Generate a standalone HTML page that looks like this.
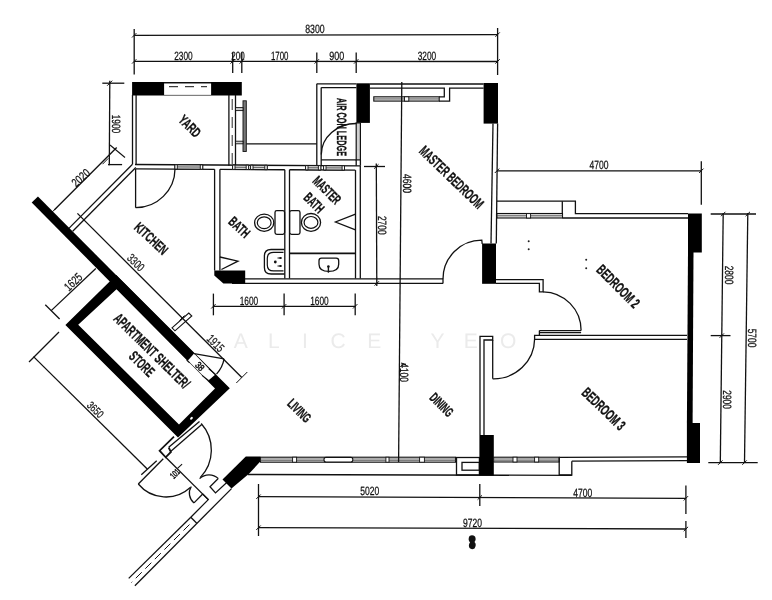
<!DOCTYPE html>
<html><head><meta charset="utf-8"><title>Floor plan</title>
<style>
html,body{margin:0;padding:0;background:#fff;}
svg{display:block;font-family:"Liberation Sans",sans-serif;will-change:transform;}
text{text-rendering:geometricPrecision;}
</style></head><body>
<svg width="772" height="600" viewBox="0 0 772 600">
<rect x="0" y="0" width="772" height="600" fill="#fff"/>
<text x="240.7 273.9 305 338.1 374.2 406 437.6 470.8 508.1" y="348" text-anchor="middle" font-size="21" fill="#ebebeb">ALICE YEO</text>
<line x1="134.2" y1="35.3" x2="497.6" y2="34.6" stroke="#111" stroke-width="1.3" />
<line x1="134.2" y1="61.3" x2="497.6" y2="61.5" stroke="#111" stroke-width="1.3" />
<line x1="134.2" y1="29" x2="134.2" y2="74.4" stroke="#111" stroke-width="1.3" />
<line x1="497.6" y1="28" x2="497.6" y2="75" stroke="#111" stroke-width="1.3" />
<line x1="232.7" y1="52.5" x2="232.7" y2="73" stroke="#111" stroke-width="1.3" />
<line x1="241.8" y1="52.5" x2="241.8" y2="73" stroke="#111" stroke-width="1.3" />
<line x1="316.8" y1="52.5" x2="316.8" y2="73" stroke="#111" stroke-width="1.3" />
<line x1="356.2" y1="52.5" x2="356.2" y2="73" stroke="#111" stroke-width="1.3" />
<line x1="132.0" y1="63.6" x2="136.39999999999998" y2="59.199999999999996" stroke="#111" stroke-width="1.0" />
<line x1="230.5" y1="63.6" x2="234.89999999999998" y2="59.199999999999996" stroke="#111" stroke-width="1.0" />
<line x1="239.60000000000002" y1="63.6" x2="244.0" y2="59.199999999999996" stroke="#111" stroke-width="1.0" />
<line x1="314.6" y1="63.6" x2="319.0" y2="59.199999999999996" stroke="#111" stroke-width="1.0" />
<line x1="354.0" y1="63.6" x2="358.4" y2="59.199999999999996" stroke="#111" stroke-width="1.0" />
<line x1="495.40000000000003" y1="63.6" x2="499.8" y2="59.199999999999996" stroke="#111" stroke-width="1.0" />
<line x1="132.0" y1="37.5" x2="136.39999999999998" y2="33.099999999999994" stroke="#111" stroke-width="1.0" />
<line x1="495.40000000000003" y1="36.800000000000004" x2="499.8" y2="32.4" stroke="#111" stroke-width="1.0" />
<text x="315" y="32.82" text-anchor="middle" font-size="12" textLength="19.5" lengthAdjust="spacingAndGlyphs" stroke="#111" stroke-width="0.25" fill="#111">8300</text>
<text x="183.5" y="59.82" text-anchor="middle" font-size="12" textLength="18.5" lengthAdjust="spacingAndGlyphs" stroke="#111" stroke-width="0.25" fill="#111">2300</text>
<text x="238" y="59.82" text-anchor="middle" font-size="12" textLength="13.5" lengthAdjust="spacingAndGlyphs" stroke="#111" stroke-width="0.25" fill="#111">200</text>
<text x="279.7" y="59.82" text-anchor="middle" font-size="12" textLength="17.5" lengthAdjust="spacingAndGlyphs" stroke="#111" stroke-width="0.25" fill="#111">1700</text>
<text x="336.7" y="59.82" text-anchor="middle" font-size="12" textLength="15" lengthAdjust="spacingAndGlyphs" stroke="#111" stroke-width="0.25" fill="#111">900</text>
<text x="427" y="60.12" text-anchor="middle" font-size="12" textLength="18.5" lengthAdjust="spacingAndGlyphs" stroke="#111" stroke-width="0.25" fill="#111">3200</text>
<rect x="132.1" y="82" width="109.70" height="13.50" fill="#000" stroke="none" stroke-width="1.3" rx="0"/>
<rect x="164.1" y="83.4" width="47.00" height="11.50" fill="#fff" stroke="none" stroke-width="1.3" rx="0"/>
<line x1="164.1" y1="82.6" x2="211.1" y2="82.6" stroke="#111" stroke-width="1" />
<line x1="169" y1="86.7" x2="207" y2="86.7" stroke="#111" stroke-width="1" stroke-dasharray="9 7"/>
<line x1="132.5" y1="95" x2="132.5" y2="164.3" stroke="#111" stroke-width="1.3" />
<line x1="136.1" y1="95" x2="136.1" y2="164.5" stroke="#111" stroke-width="1.3" />
<line x1="228.9" y1="95" x2="228.9" y2="165.8" stroke="#111" stroke-width="1.3" />
<line x1="235.5" y1="95" x2="235.5" y2="165.8" stroke="#111" stroke-width="1.3" />
<line x1="232.2" y1="99" x2="232.2" y2="164" stroke="#111" stroke-width="0.9" stroke-dasharray="11 7"/>
<rect x="243" y="100.8" width="3.30" height="50.70" fill="#777" stroke="#111" stroke-width="0.9" rx="0"/>
<rect x="235.5" y="107.6" width="7.50" height="3.00" fill="#ccc" stroke="#111" stroke-width="0.9" rx="0"/>
<rect x="235.5" y="141.2" width="7.50" height="2.60" fill="#ccc" stroke="#111" stroke-width="0.9" rx="0"/>
<line x1="246.3" y1="143.8" x2="316.8" y2="143.8" stroke="#111" stroke-width="1.3" />
<text x="190" y="131.05" text-anchor="middle" font-size="14.040000000000001" textLength="25" lengthAdjust="spacingAndGlyphs" font-weight="bold" stroke="#111" stroke-width="0.35" fill="#111" transform="rotate(45 190 126)">YARD</text>
<line x1="109.8" y1="80.7" x2="109.3" y2="165.2" stroke="#111" stroke-width="1.3" />
<line x1="102.3" y1="83.2" x2="124.3" y2="83.2" stroke="#111" stroke-width="1.3" />
<line x1="108" y1="164.6" x2="122.1" y2="164.6" stroke="#111" stroke-width="1.3" />
<line x1="107.2" y1="85.7" x2="112.2" y2="80.7" stroke="#111" stroke-width="1.0" />
<line x1="110" y1="145" x2="125" y2="157.5" stroke="#111" stroke-width="1.1" />
<line x1="102.5" y1="164.2" x2="108.3" y2="158.3" stroke="#111" stroke-width="1.0" />
<text x="116" y="128.32" text-anchor="middle" font-size="12" textLength="18.5" lengthAdjust="spacingAndGlyphs" stroke="#111" stroke-width="0.25" fill="#111" transform="rotate(90 116 124)">1900</text>
<line x1="316.8" y1="83.8" x2="356.4" y2="83.8" stroke="#111" stroke-width="1.3" />
<line x1="321.2" y1="87.6" x2="356.4" y2="87.6" stroke="#111" stroke-width="1.3" />
<line x1="316.8" y1="83.8" x2="316.8" y2="165.8" stroke="#111" stroke-width="1.3" />
<line x1="321.2" y1="87.6" x2="321.2" y2="165.8" stroke="#111" stroke-width="1.3" />
<rect x="356.4" y="83.3" width="13.50" height="39.60" fill="#000" stroke="none" stroke-width="1.3" rx="0"/>
<rect x="356.2" y="122.9" width="4.20" height="37.00" fill="#d0d0d0" stroke="#111" stroke-width="1.2" rx="0"/>
<line x1="356.2" y1="159.9" x2="356.2" y2="165.8" stroke="#111" stroke-width="1.3" />
<line x1="360.4" y1="159.9" x2="360.4" y2="165.8" stroke="#111" stroke-width="1.3" />
<line x1="321.2" y1="159.9" x2="356.4" y2="159.9" stroke="#111" stroke-width="1.3" />
<path d="M321.3,154.5 A35,31 0 0 1 356.4,123.5" fill="none" stroke="#111" stroke-width="1.3" />
<text x="341.5" y="131.86" text-anchor="middle" font-size="13.5" textLength="58" lengthAdjust="spacingAndGlyphs" font-weight="bold" stroke="#111" stroke-width="0.35" fill="#111" transform="rotate(90 341.5 127)">AIR CON LEDGE</text>
<line x1="135" y1="164.5" x2="360.4" y2="165.9" stroke="#111" stroke-width="1.3" />
<line x1="136" y1="168.81" x2="214.6" y2="169.3" stroke="#111" stroke-width="1.3" />
<line x1="220" y1="169.33" x2="284.8" y2="169.73" stroke="#111" stroke-width="1.3" />
<line x1="289.5" y1="169.76" x2="355.3" y2="170.17" stroke="#111" stroke-width="1.3" />
<polygon points="174.9,164.75 202.7,164.92 202.7,169.22 174.9,169.05" fill="#d6d6d6" stroke="#111" stroke-width="1.0"/>
<line x1="174.9" y1="166.9" x2="202.7" y2="167.07" stroke="#444" stroke-width="0.8" />
<polygon points="174.9,164.75 177.3,164.75 177.3,169.05 174.9,169.05" fill="#fff" stroke="#111" stroke-width="0.9"/>
<polygon points="200.29999999999998,164.91 202.7,164.91 202.7,169.21 200.29999999999998,169.21" fill="#fff" stroke="#111" stroke-width="0.9"/>
<polygon points="232.6,165.11 248.6,165.21 248.6,169.51 232.6,169.41" fill="#d6d6d6" stroke="#111" stroke-width="1.0"/>
<line x1="232.6" y1="167.26" x2="248.6" y2="167.36" stroke="#444" stroke-width="0.8" />
<polygon points="232.6,165.11 235.0,165.11 235.0,169.41 232.6,169.41" fill="#fff" stroke="#111" stroke-width="0.9"/>
<polygon points="246.2,165.19 248.6,165.19 248.6,169.49 246.2,169.49" fill="#fff" stroke="#111" stroke-width="0.9"/>
<polygon points="250.6,165.22 267.2,165.32 267.2,169.62 250.6,169.52" fill="#d6d6d6" stroke="#111" stroke-width="1.0"/>
<line x1="250.6" y1="167.37" x2="267.2" y2="167.47" stroke="#444" stroke-width="0.8" />
<polygon points="250.6,165.22 253.0,165.22 253.0,169.52 250.6,169.52" fill="#fff" stroke="#111" stroke-width="0.9"/>
<polygon points="264.8,165.31 267.2,165.31 267.2,169.61 264.8,169.61" fill="#fff" stroke="#111" stroke-width="0.9"/>
<polygon points="305.6,165.56 320.8,165.66 320.8,169.96 305.6,169.86" fill="#d6d6d6" stroke="#111" stroke-width="1.0"/>
<line x1="305.6" y1="167.71" x2="320.8" y2="167.81" stroke="#444" stroke-width="0.8" />
<polygon points="305.6,165.56 308.0,165.56 308.0,169.86 305.6,169.86" fill="#fff" stroke="#111" stroke-width="0.9"/>
<polygon points="318.40000000000003,165.64 320.8,165.64 320.8,169.94 318.40000000000003,169.94" fill="#fff" stroke="#111" stroke-width="0.9"/>
<polygon points="323.6,165.67 344.5,165.8 344.5,170.1 323.6,169.97" fill="#d6d6d6" stroke="#111" stroke-width="1.0"/>
<line x1="323.6" y1="167.82" x2="344.5" y2="167.95" stroke="#444" stroke-width="0.8" />
<polygon points="323.6,165.67 326.0,165.67 326.0,169.97 323.6,169.97" fill="#fff" stroke="#111" stroke-width="0.9"/>
<polygon points="342.1,165.79 344.5,165.79 344.5,170.09 342.1,170.09" fill="#fff" stroke="#111" stroke-width="0.9"/>
<line x1="132.5" y1="164.3" x2="68.9" y2="228.4" stroke="#111" stroke-width="1.3" />
<line x1="135.8" y1="167.5" x2="72.7" y2="231.2" stroke="#111" stroke-width="1.3" />
<line x1="135.6" y1="168.8" x2="135.6" y2="207.7" stroke="#111" stroke-width="1.3" />
<path d="M135.6,207.7 A39.4,39 0 0 0 175,169" fill="none" stroke="#111" stroke-width="1.3" />
<text x="151.4" y="243.45" text-anchor="middle" font-size="14.040000000000001" textLength="40" lengthAdjust="spacingAndGlyphs" font-weight="bold" stroke="#111" stroke-width="0.35" fill="#111" transform="rotate(43 151.4 238.4)">KITCHEN</text>
<line x1="54.2" y1="210" x2="116.7" y2="147.5" stroke="#111" stroke-width="1.3" />
<text x="80.7" y="181.92" text-anchor="middle" font-size="12" textLength="20" lengthAdjust="spacingAndGlyphs" stroke="#111" stroke-width="0.25" fill="#111" transform="rotate(-41 80.7 177.6)">2020</text>
<line x1="51.7" y1="212.5" x2="56.7" y2="207.5" stroke="#111" stroke-width="1.0" />
<polygon points="37.95,196.4 194.1,353.6 187.9,360.6 31.7,202.5" fill="#000" stroke="none" stroke-width="0"/>
<path fill-rule="evenodd" fill="#000" d="M65.4,325.1 L116.3,275.1 L229.8,388.3 L178,437.5 Z M78.2,324.7 L116.5,289.2 L215,388.4 L179,424.4 Z"/>
<polygon points="194.1,353.6 214.8,374.9 208.1,380.8 187.9,360.6" fill="#fff" stroke="none" stroke-width="0"/>
<polygon points="172.0,327.8 188.8,313.0 191.8,316.0 175.0,330.8" fill="#fff" stroke="#111" stroke-width="1.1"/>
<line x1="194.1" y1="353.6" x2="224.1" y2="358.9" stroke="#111" stroke-width="1.3" />
<path d="M224.1,358.9 A30.5,30.5 0 0 1 216.5,374.1" fill="none" stroke="#111" stroke-width="1.3" />
<line x1="186.7" y1="360" x2="189.6" y2="362.9" stroke="#111" stroke-width="1.1" />
<line x1="208.8" y1="368.8" x2="215.8" y2="374.6" stroke="#111" stroke-width="1.1" />
<line x1="202" y1="375.4" x2="208.8" y2="380.8" stroke="#111" stroke-width="1.1" />
<text x="200" y="369.72" text-anchor="middle" font-size="9.5" textLength="8.5" lengthAdjust="spacingAndGlyphs" stroke="#111" stroke-width="0.5" fill="#111" transform="rotate(45 200 366.3)">38</text>
<ellipse cx="191.5" cy="418.3" rx="1.6" ry="1.1" fill="#fff" transform="rotate(-45 191.5 418.3)"/>
<text x="152.1" y="355.95" text-anchor="middle" font-size="14.580000000000002" textLength="100" lengthAdjust="spacingAndGlyphs" font-weight="bold" stroke="#111" stroke-width="0.35" fill="#111" transform="rotate(44.5 152.1 350.7)">APARTMENT SHELTER/</text>
<text x="142" y="368.95" text-anchor="middle" font-size="14.580000000000002" textLength="29" lengthAdjust="spacingAndGlyphs" font-weight="bold" stroke="#111" stroke-width="0.35" fill="#111" transform="rotate(44.5 142 363.7)">STORE</text>
<line x1="77.4" y1="213.4" x2="241.8" y2="377.5" stroke="#111" stroke-width="1.3" />
<line x1="236.3" y1="383.0" x2="247.3" y2="372.0" stroke="#111" stroke-width="1.0" />
<line x1="179.5" y1="320.5" x2="184.5" y2="315.5" stroke="#111" stroke-width="1" />
<text x="136" y="266.72" text-anchor="middle" font-size="12" textLength="19" lengthAdjust="spacingAndGlyphs" stroke="#111" stroke-width="0.25" fill="#111" transform="rotate(45 136 262.4)">3300</text>
<text x="215.7" y="347.42" text-anchor="middle" font-size="12" textLength="19" lengthAdjust="spacingAndGlyphs" stroke="#111" stroke-width="0.25" fill="#111" transform="rotate(45 215.7 343.1)">1915</text>
<line x1="51.2" y1="310.6" x2="95.8" y2="268.5" stroke="#111" stroke-width="1.3" />
<line x1="45.3" y1="304.7" x2="59.6" y2="319" stroke="#111" stroke-width="1.3" />
<text x="73.0" y="286.12" text-anchor="middle" font-size="12" textLength="20" lengthAdjust="spacingAndGlyphs" stroke="#111" stroke-width="0.25" fill="#111" transform="rotate(-43 73.0 281.8)">1625</text>
<line x1="33.5" y1="356.6" x2="147.5" y2="469.3" stroke="#111" stroke-width="1.3" />
<line x1="59" y1="332" x2="29" y2="362" stroke="#111" stroke-width="1.3" />
<line x1="141.3" y1="474.7" x2="156.7" y2="460.7" stroke="#111" stroke-width="1.3" />
<text x="95.5" y="413.46" text-anchor="middle" font-size="11" textLength="18" lengthAdjust="spacingAndGlyphs" stroke="#111" stroke-width="0.25" fill="#111" transform="rotate(45 95.5 409.5)">3650</text>
<polyline points="174,436.7 159.6,450.7 165.7,457.3 170.9,452 168.7,447.5" fill="none" stroke="#111" stroke-width="1.8" />
<line x1="168.7" y1="447.3" x2="199.5" y2="421.5" stroke="#111" stroke-width="1.3" />
<line x1="170.9" y1="451.2" x2="201.7" y2="424.5" stroke="#111" stroke-width="1.3" />
<path d="M201.2,423.5 A39.7,39.7 0 0 1 200.2,477.6" fill="none" stroke="#111" stroke-width="1.3" />
<line x1="165.7" y1="457.3" x2="208.3" y2="499.6" stroke="#111" stroke-width="1.3" />
<path d="M199.6,478.6 A13.5,13.5 0 0 1 218.4,478.6" fill="none" stroke="#111" stroke-width="1.3" />
<line x1="163.3" y1="458.7" x2="138.3" y2="484" stroke="#111" stroke-width="1.3" />
<path d="M138.3,484 A36,36 0 0 0 190.3,487.5" fill="none" stroke="#111" stroke-width="1.3" />
<path d="M191.3,486.5 A12.5,12.5 0 0 0 194,502.9" fill="none" stroke="#111" stroke-width="1.3" />
<line x1="194" y1="502.9" x2="202.7" y2="494" stroke="#111" stroke-width="1.3" />
<polyline points="218,478.7 210,486.7 215.5,492.9 230,479.5" fill="none" stroke="#111" stroke-width="1.3" />
<polyline points="202.7,494 208.3,499.6 190.8,517.3" fill="none" stroke="#111" stroke-width="1.3" />
<line x1="177.5" y1="468.3" x2="182.1" y2="464.2" stroke="#111" stroke-width="1.1" />
<text x="174.8" y="476.84" text-anchor="middle" font-size="9" textLength="9.5" lengthAdjust="spacingAndGlyphs" stroke="#111" stroke-width="0.5" fill="#111" transform="rotate(-45 174.8 473.6)">101</text>
<line x1="231.5" y1="488.6" x2="134.9" y2="585.7" stroke="#111" stroke-width="1.3" />
<line x1="190.8" y1="517.3" x2="128.7" y2="578.4" stroke="#111" stroke-width="1.3" />
<line x1="190.8" y1="517.3" x2="197" y2="523.5" stroke="#111" stroke-width="1.3" />
<line x1="189.5" y1="524.5" x2="131.5" y2="582.5" stroke="#111" stroke-width="1" stroke-dasharray="8.5 5"/>
<polygon points="245.8,456.6 260.3,456.6 260.3,461.6 249,473.7 231.5,488.6 222.5,479.5" fill="#000" stroke="none" stroke-width="0"/>
<line x1="247.8" y1="474.5" x2="571.8" y2="475.4" stroke="#111" stroke-width="1.3" />
<rect x="260.5" y="457.2" width="195.00" height="5.00" fill="#dcdcdc" stroke="#111" stroke-width="1.1" rx="0"/>
<line x1="260.5" y1="459.0" x2="455.5" y2="459.0" stroke="#555" stroke-width="0.7" />
<line x1="260.5" y1="460.5" x2="455.5" y2="460.5" stroke="#555" stroke-width="0.7" />
<rect x="292.6" y="457.2" width="4.00" height="5.00" fill="#fff" stroke="#111" stroke-width="0.9" rx="0"/>
<rect x="385.9" y="457.2" width="3.10" height="5.00" fill="#fff" stroke="#111" stroke-width="0.9" rx="0"/>
<rect x="419.6" y="457.2" width="4.80" height="5.00" fill="#fff" stroke="#111" stroke-width="0.9" rx="0"/>
<rect x="324" y="457.4" width="28.80" height="4.60" fill="#fff" stroke="#111" stroke-width="1.1" rx="2"/>
<rect x="456.5" y="457.5" width="22.90" height="17.50" fill="none" stroke="#111" stroke-width="1.3" rx="0"/>
<rect x="462" y="462.4" width="17.40" height="7.80" fill="none" stroke="#111" stroke-width="1.3" rx="0"/>
<rect x="479.4" y="435" width="14.40" height="40.60" fill="#000" stroke="none" stroke-width="1.3" rx="0"/>
<rect x="493.6" y="457.2" width="65.60" height="4.80" fill="#dcdcdc" stroke="#111" stroke-width="1.1" rx="0"/>
<line x1="493.6" y1="458.928" x2="559.2" y2="458.928" stroke="#555" stroke-width="0.7" />
<line x1="493.6" y1="460.368" x2="559.2" y2="460.368" stroke="#555" stroke-width="0.7" />
<rect x="513" y="457.2" width="4.00" height="4.80" fill="#fff" stroke="#111" stroke-width="0.9" rx="0"/>
<rect x="534.6" y="457.2" width="4.10" height="4.80" fill="#fff" stroke="#111" stroke-width="0.9" rx="0"/>
<polyline points="559.2,457.3 559.2,475 571.8,475 571.8,461.2" fill="none" stroke="#111" stroke-width="1.3" />
<line x1="559.2" y1="457.3" x2="687" y2="456.9" stroke="#111" stroke-width="1.3" />
<line x1="571.8" y1="461.2" x2="687" y2="460.7" stroke="#111" stroke-width="1.3" />
<text x="299.5" y="415.46" text-anchor="middle" font-size="13.5" textLength="27" lengthAdjust="spacingAndGlyphs" font-weight="bold" stroke="#111" stroke-width="0.35" fill="#111" transform="rotate(45 299.5 410.6)">LIVING</text>
<text x="441.8" y="409.56" text-anchor="middle" font-size="13.5" textLength="27" lengthAdjust="spacingAndGlyphs" font-weight="bold" stroke="#111" stroke-width="0.35" fill="#111" transform="rotate(45 441.8 404.7)">DINING</text>
<line x1="258.5" y1="496.7" x2="685.9" y2="498.3" stroke="#111" stroke-width="1.3" />
<line x1="258.5" y1="527.7" x2="685.9" y2="529" stroke="#111" stroke-width="1.3" />
<line x1="258.5" y1="484" x2="258.5" y2="536" stroke="#111" stroke-width="1.3" />
<line x1="479.8" y1="484" x2="479.8" y2="506" stroke="#111" stroke-width="1.3" />
<line x1="685.9" y1="485.5" x2="685.9" y2="514" stroke="#111" stroke-width="1.3" />
<line x1="685.9" y1="521" x2="685.9" y2="538" stroke="#111" stroke-width="1.3" />
<line x1="256.3" y1="498.9" x2="260.7" y2="494.5" stroke="#111" stroke-width="1.0" />
<line x1="477.6" y1="499.7" x2="482.0" y2="495.3" stroke="#111" stroke-width="1.0" />
<line x1="683.6999999999999" y1="500.5" x2="688.1" y2="496.1" stroke="#111" stroke-width="1.0" />
<line x1="256.3" y1="529.9000000000001" x2="260.7" y2="525.5" stroke="#111" stroke-width="1.0" />
<line x1="683.6999999999999" y1="531.2" x2="688.1" y2="526.8" stroke="#111" stroke-width="1.0" />
<text x="369.7" y="495.32" text-anchor="middle" font-size="12" textLength="19" lengthAdjust="spacingAndGlyphs" stroke="#111" stroke-width="0.25" fill="#111">5020</text>
<text x="582.7" y="496.62" text-anchor="middle" font-size="12" textLength="19" lengthAdjust="spacingAndGlyphs" stroke="#111" stroke-width="0.25" fill="#111">4700</text>
<text x="472.4" y="526.62" text-anchor="middle" font-size="12" textLength="19" lengthAdjust="spacingAndGlyphs" stroke="#111" stroke-width="0.25" fill="#111">9720</text>
<path d="M469.5,536 q3,-1.5 5.5,0.5 q1.5,3 -0.5,5.5 q2.5,2.5 0,6.5 q-3,1.5 -5,-0.5 q-1.5,-3 0.5,-5.5 q-2.5,-3 -0.5,-6.5z" fill="#111"/>
<line x1="214.6" y1="169.3" x2="214.6" y2="270.5" stroke="#111" stroke-width="1.3" />
<line x1="219.9" y1="169.3" x2="219.9" y2="270.5" stroke="#111" stroke-width="1.3" />
<line x1="284.8" y1="169.7" x2="284.8" y2="278.5" stroke="#111" stroke-width="1.3" />
<line x1="289.5" y1="169.7" x2="289.5" y2="278.5" stroke="#111" stroke-width="1.3" />
<line x1="355.5" y1="170.1" x2="355.5" y2="278.5" stroke="#111" stroke-width="1.3" />
<line x1="360.3" y1="165.9" x2="360.3" y2="278.5" stroke="#111" stroke-width="1.3" />
<line x1="245" y1="278.8" x2="443" y2="278.8" stroke="#111" stroke-width="1.3" />
<line x1="232" y1="283.4" x2="443" y2="283.4" stroke="#111" stroke-width="1.3" />
<line x1="443" y1="278.8" x2="443" y2="283.4" stroke="#111" stroke-width="1.3" />
<line x1="289.5" y1="253.3" x2="355.5" y2="253.3" stroke="#111" stroke-width="1.7" />
<polygon points="214.3,270.5 245.2,270.5 245.2,283.6 223.4,283.6 214.3,275.5" fill="#000" stroke="none" stroke-width="0"/>
<polyline points="219.9,257 238,261.2 221.4,269.5" fill="none" stroke="#111" stroke-width="1.3" />
<ellipse cx="264.2" cy="222.7" rx="9.6" ry="8.6" fill="none" stroke="#111" stroke-width="1.3"/>
<ellipse cx="264.2" cy="222.7" rx="6.9" ry="5.9" fill="none" stroke="#111" stroke-width="1.2"/>
<rect x="275" y="210.7" width="9.60" height="23.70" fill="#fff" stroke="#111" stroke-width="1.3" rx="1.8"/>
<rect x="289.7" y="210.7" width="10.30" height="23.70" fill="#fff" stroke="#111" stroke-width="1.3" rx="1.8"/>
<ellipse cx="311" cy="222.4" rx="9.6" ry="8.9" fill="none" stroke="#111" stroke-width="1.3"/>
<ellipse cx="311" cy="222.4" rx="6.9" ry="5.9" fill="none" stroke="#111" stroke-width="1.2"/>
<path d="M284.6,249.5 h-13.5 q-6.7,0 -6.7,6.5 v11.5 q0,6.5 6.7,6.5 h13.5" fill="none" stroke="#111" stroke-width="1.3" />
<path d="M283.5,252.4 h-10 q-6.2,0 -6.2,6 v6.5 q0,6 6.2,6 h10" fill="none" stroke="#111" stroke-width="1.2" />
<circle cx="275.3" cy="262" r="1.4" fill="#111"/><circle cx="280.3" cy="258" r="1.0" fill="#111"/><circle cx="280.3" cy="266" r="1.0" fill="#111"/>
<line x1="277.5" y1="258" x2="282" y2="258" stroke="#111" stroke-width="1.0" />
<line x1="277.5" y1="266" x2="282" y2="266" stroke="#111" stroke-width="1.0" />
<path d="M321.5,258.2 h14.7 q2.5,0 2.5,2.5 v3.5 q0,7.2 -9.8,7.2 q-9.9,0 -9.9,-7.2 v-3.5 q0,-2.5 2.5,-2.5 z" fill="none" stroke="#111" stroke-width="1.3" />
<circle cx="328.4" cy="266.5" r="1.3" fill="#111"/>
<line x1="328.4" y1="266.5" x2="328.4" y2="272.7" stroke="#111" stroke-width="1.4" />
<polyline points="355.5,214.2 335.5,222 355.5,229.8" fill="none" stroke="#111" stroke-width="1.3" />
<text x="239.5" y="232.05" text-anchor="middle" font-size="14.040000000000001" textLength="23.5" lengthAdjust="spacingAndGlyphs" font-weight="bold" stroke="#111" stroke-width="0.35" fill="#111" transform="rotate(43 239.5 227)">BATH</text>
<text x="327.1" y="195.15" text-anchor="middle" font-size="14.040000000000001" textLength="33" lengthAdjust="spacingAndGlyphs" font-weight="bold" stroke="#111" stroke-width="0.35" fill="#111" transform="rotate(45 327.1 190.1)">MASTER</text>
<text x="314.2" y="207.75" text-anchor="middle" font-size="14.040000000000001" textLength="22" lengthAdjust="spacingAndGlyphs" font-weight="bold" stroke="#111" stroke-width="0.35" fill="#111" transform="rotate(45 314.2 202.7)">BATH</text>
<line x1="213.4" y1="306.3" x2="355.2" y2="306.3" stroke="#111" stroke-width="1.3" />
<line x1="213.4" y1="293.6" x2="213.4" y2="315.3" stroke="#111" stroke-width="1.3" />
<line x1="211.20000000000002" y1="308.5" x2="215.6" y2="304.1" stroke="#111" stroke-width="1.0" />
<line x1="284.1" y1="293.6" x2="284.1" y2="315.3" stroke="#111" stroke-width="1.3" />
<line x1="281.90000000000003" y1="308.5" x2="286.3" y2="304.1" stroke="#111" stroke-width="1.0" />
<line x1="355.2" y1="293.6" x2="355.2" y2="315.3" stroke="#111" stroke-width="1.3" />
<line x1="353.0" y1="308.5" x2="357.4" y2="304.1" stroke="#111" stroke-width="1.0" />
<text x="249" y="304.62" text-anchor="middle" font-size="12" textLength="18.5" lengthAdjust="spacingAndGlyphs" stroke="#111" stroke-width="0.25" fill="#111">1600</text>
<text x="319.4" y="304.62" text-anchor="middle" font-size="12" textLength="18.5" lengthAdjust="spacingAndGlyphs" stroke="#111" stroke-width="0.25" fill="#111">1600</text>
<line x1="376.3" y1="163.5" x2="376.8" y2="286" stroke="#111" stroke-width="1.3" />
<line x1="364" y1="166.5" x2="385" y2="166.5" stroke="#111" stroke-width="1.3" />
<line x1="374.1" y1="168.7" x2="378.5" y2="164.3" stroke="#111" stroke-width="1.0" />
<line x1="374.6" y1="285.59999999999997" x2="379.0" y2="281.2" stroke="#111" stroke-width="1.0" />
<text x="382.6" y="229.62" text-anchor="middle" font-size="12" textLength="18.7" lengthAdjust="spacingAndGlyphs" stroke="#111" stroke-width="0.25" fill="#111" transform="rotate(90 382.6 225.3)">2700</text>
<line x1="369.9" y1="84" x2="483.6" y2="84" stroke="#111" stroke-width="1.3" />
<polyline points="369.9,88.1 444.3,88.1 444.3,96.8 439,96.8" fill="none" stroke="#111" stroke-width="1.3" />
<polyline points="439,101.1 449.6,101.1 449.6,88.1 483.6,88.1" fill="none" stroke="#111" stroke-width="1.3" />
<rect x="373.8" y="96.8" width="65.40" height="4.30" fill="#dcdcdc" stroke="#111" stroke-width="1.1" rx="0"/>
<line x1="373.8" y1="98.94999999999999" x2="439.2" y2="98.94999999999999" stroke="#444" stroke-width="0.8" />
<rect x="404.5" y="96.8" width="4.30" height="4.30" fill="#fff" stroke="#111" stroke-width="0.9" rx="0"/>
<rect x="483.6" y="83" width="14.40" height="40.60" fill="#000" stroke="none" stroke-width="1.3" rx="0"/>
<line x1="493" y1="123.6" x2="491" y2="243.5" stroke="#111" stroke-width="1.3" />
<line x1="497.6" y1="123.6" x2="496.3" y2="243.5" stroke="#111" stroke-width="1.3" />
<rect x="482.1" y="243.5" width="13.90" height="40.30" fill="#000" stroke="none" stroke-width="1.3" rx="0"/>
<path d="M443,279 A38.8,38.8 0 0 1 481.8,240.2 L482.2,244" fill="none" stroke="#111" stroke-width="1.3" />
<line x1="401.8" y1="82" x2="398.6" y2="462" stroke="#111" stroke-width="1.3" />
<text x="407" y="187.92" text-anchor="middle" font-size="12" textLength="19" lengthAdjust="spacingAndGlyphs" stroke="#111" stroke-width="0.25" fill="#111" transform="rotate(90 407 183.6)">4600</text>
<text x="404.5" y="376.92" text-anchor="middle" font-size="12" textLength="18.6" lengthAdjust="spacingAndGlyphs" stroke="#111" stroke-width="0.25" fill="#111" transform="rotate(90 404.5 372.6)">4100</text>
<text x="451.7" y="182.25" text-anchor="middle" font-size="14.580000000000002" textLength="83" lengthAdjust="spacingAndGlyphs" font-weight="bold" stroke="#111" stroke-width="0.35" fill="#111" transform="rotate(44 451.7 177)">MASTER BEDROOM</text>
<polyline points="401,363 406,364.3 401,365.5" fill="none" stroke="#111" stroke-width="0.9" />
<line x1="497" y1="170.8" x2="701.3" y2="170.8" stroke="#111" stroke-width="1.3" />
<line x1="701.3" y1="161.3" x2="701.3" y2="204.8" stroke="#111" stroke-width="1.3" />
<line x1="494.8" y1="173.0" x2="499.2" y2="168.60000000000002" stroke="#111" stroke-width="1.0" />
<line x1="699.0999999999999" y1="173.0" x2="703.5" y2="168.60000000000002" stroke="#111" stroke-width="1.0" />
<text x="599" y="169.32" text-anchor="middle" font-size="12" textLength="19" lengthAdjust="spacingAndGlyphs" stroke="#111" stroke-width="0.25" fill="#111">4700</text>
<polyline points="497,201.2 575.4,201.2 575.4,213.6 688,213.6" fill="none" stroke="#111" stroke-width="1.3" />
<polyline points="562.3,201.2 562.3,218" fill="none" stroke="#111" stroke-width="1.3" />
<rect x="497" y="213.5" width="65.50" height="4.50" fill="#dcdcdc" stroke="#111" stroke-width="1.1" rx="0"/>
<line x1="497" y1="215.75" x2="562.5" y2="215.75" stroke="#444" stroke-width="0.8" />
<rect x="526.5" y="213.6" width="4.10" height="4.40" fill="#fff" stroke="#111" stroke-width="0.9" rx="0"/>
<line x1="562.5" y1="218" x2="688" y2="218" stroke="#111" stroke-width="1.3" />
<rect x="688" y="213.5" width="13.80" height="39.00" fill="#000" stroke="none" stroke-width="1.3" rx="0"/>
<polygon points="688,252 693.5,252 692.6,423 686.9,423" fill="#000" stroke="none" stroke-width="0"/>
<rect x="686.9" y="423" width="13.10" height="40.00" fill="#000" stroke="none" stroke-width="1.3" rx="0"/>
<circle cx="528.7" cy="241.3" r="1.0" fill="#222"/>
<circle cx="528.7" cy="249.3" r="1.0" fill="#222"/>
<circle cx="586.2" cy="259.8" r="1.0" fill="#222"/>
<circle cx="586.2" cy="268.3" r="1.0" fill="#222"/>
<polyline points="496,279.6 543.1,279.6 543.1,291.8 539.4,291.8 539.4,283.4 496,283.4" fill="none" stroke="#111" stroke-width="1.3" />
<path d="M543.1,291.8 A38.6,38.6 0 0 1 581.1,330.6" fill="none" stroke="#111" stroke-width="1.3" />
<polyline points="539.4,330.6 581.1,330.6" fill="none" stroke="#111" stroke-width="1.3" />
<line x1="539.4" y1="332.6" x2="581.1" y2="332.6" stroke="#111" stroke-width="1.3" />
<text x="618.4" y="291.45" text-anchor="middle" font-size="14.580000000000002" textLength="54" lengthAdjust="spacingAndGlyphs" font-weight="bold" stroke="#111" stroke-width="0.35" fill="#111" transform="rotate(45 618.4 286.2)">BEDROOM 2</text>
<polyline points="539.4,330.6 539.4,335.4 534.6,335.4 534.6,339.3 687,339.3" fill="none" stroke="#111" stroke-width="1.3" />
<line x1="539.4" y1="335.4" x2="687" y2="335.4" stroke="#111" stroke-width="1.3" />
<polyline points="480.0,435 480.0,336.3 492.7,336.3 492.7,340 484.0,340 484.0,435" fill="none" stroke="#111" stroke-width="1.3" />
<line x1="492.7" y1="340" x2="492.7" y2="378.8" stroke="#111" stroke-width="1.3" />
<path d="M534.6,339.3 A41,40 0 0 1 492.7,378.8" fill="none" stroke="#111" stroke-width="1.3" />
<text x="603.9" y="413.95" text-anchor="middle" font-size="14.580000000000002" textLength="54" lengthAdjust="spacingAndGlyphs" font-weight="bold" stroke="#111" stroke-width="0.35" fill="#111" transform="rotate(44 603.9 408.7)">BEDROOM 3</text>
<line x1="723.2" y1="213" x2="720.3" y2="463" stroke="#111" stroke-width="1.3" />
<line x1="747.8" y1="213" x2="744.5" y2="463" stroke="#111" stroke-width="1.3" />
<line x1="710.7" y1="214" x2="756" y2="214" stroke="#111" stroke-width="1.3" />
<line x1="710.7" y1="335.6" x2="730.5" y2="335.6" stroke="#111" stroke-width="1.3" />
<line x1="708.3" y1="462.6" x2="757.7" y2="462.6" stroke="#111" stroke-width="1.3" />
<line x1="721.0" y1="216.2" x2="725.4000000000001" y2="211.8" stroke="#111" stroke-width="1.0" />
<line x1="745.5999999999999" y1="216.2" x2="750.0" y2="211.8" stroke="#111" stroke-width="1.0" />
<line x1="719.5999999999999" y1="337.8" x2="724.0" y2="333.40000000000003" stroke="#111" stroke-width="1.0" />
<line x1="718.0999999999999" y1="464.8" x2="722.5" y2="460.40000000000003" stroke="#111" stroke-width="1.0" />
<line x1="742.3" y1="464.8" x2="746.7" y2="460.40000000000003" stroke="#111" stroke-width="1.0" />
<text x="729" y="279.32" text-anchor="middle" font-size="12" textLength="18.7" lengthAdjust="spacingAndGlyphs" stroke="#111" stroke-width="0.25" fill="#111" transform="rotate(90 729 275)">2800</text>
<text x="752.5" y="342.32" text-anchor="middle" font-size="12" textLength="18.7" lengthAdjust="spacingAndGlyphs" stroke="#111" stroke-width="0.25" fill="#111" transform="rotate(90 752.5 338)">5700</text>
<text x="727" y="403.92" text-anchor="middle" font-size="12" textLength="18.7" lengthAdjust="spacingAndGlyphs" stroke="#111" stroke-width="0.25" fill="#111" transform="rotate(90 727 399.6)">2900</text>
</svg>
</body></html>
